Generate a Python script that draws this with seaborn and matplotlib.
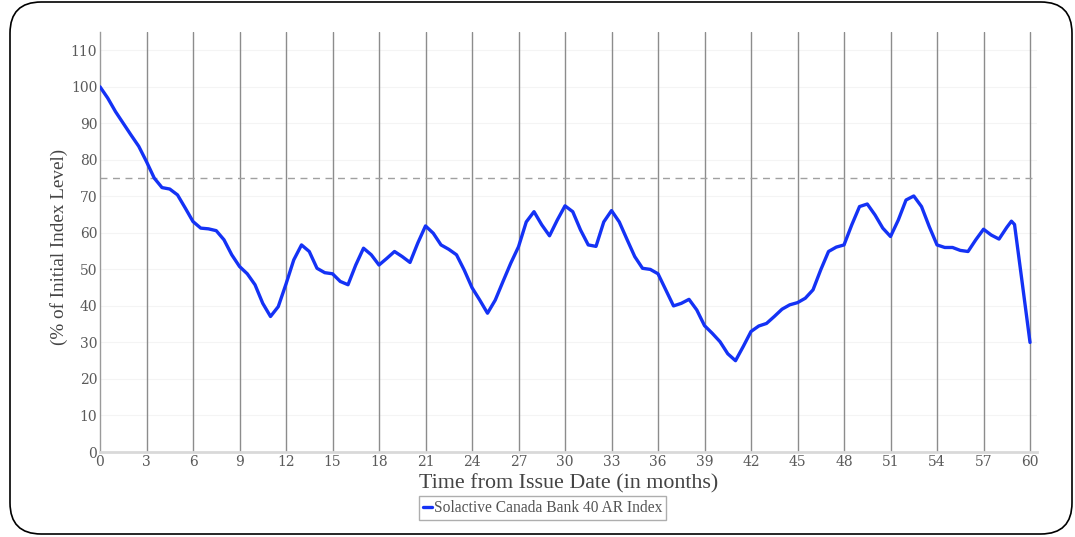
import matplotlib
matplotlib.use("Agg")
import matplotlib.pyplot as plt
from matplotlib.patches import FancyBboxPatch
import seaborn as sns
import pandas as pd

months = [0, 0.5, 1, 1.5, 2, 2.5, 3, 3.5, 4, 4.5, 5, 5.5, 6, 6.5, 7, 7.5, 8, 8.5, 9, 9.5,
          10, 10.5, 11, 11.5, 12, 12.5, 13, 13.5, 14, 14.5, 15, 15.5, 16, 16.5, 17, 17.5,
          18, 18.5, 19, 19.5, 20, 20.5, 21, 21.5, 22, 22.5, 23, 23.5, 24, 24.5, 25, 25.5,
          26, 26.5, 27, 27.5, 28, 28.5, 29, 29.5, 30, 30.5, 31, 31.5, 32, 32.5, 33, 33.5,
          34, 34.5, 35, 35.5, 36, 36.5, 37, 37.5, 38, 38.5, 39, 39.5, 40, 40.5, 41, 41.5,
          42, 42.5, 43, 43.5, 44, 44.5, 45, 45.5, 46, 46.5, 47, 47.5, 48, 48.5, 49, 49.5,
          50, 50.5, 51, 51.5, 52, 52.5, 53, 53.5, 54, 54.5, 55, 55.5, 56, 56.5, 57, 57.5,
          58, 58.5, 58.8, 59, 59.5, 60]
index_level = [100, 96.9, 93.2, 90.0, 86.8, 83.7, 79.5, 75.0, 72.4, 72.0, 70.4, 66.8, 63.1,
               61.3, 61.1, 60.6, 58.1, 54.0, 50.8, 48.8, 45.8, 40.7, 37.1, 39.8, 46.0, 52.6,
               56.7, 54.9, 50.3, 49.1, 48.8, 46.7, 45.8, 51.2, 55.8, 54.0, 51.2, 53.0, 54.9,
               53.5, 51.9, 57.2, 61.9, 59.9, 56.7, 55.5, 54.0, 49.8, 45.0, 41.6, 38.0, 41.6,
               46.7, 51.7, 56.2, 63.0, 65.8, 62.2, 59.2, 63.5, 67.4, 65.8, 60.8, 56.7, 56.3,
               63.0, 66.1, 63.0, 58.2, 53.5, 50.3, 50.0, 48.8, 44.4, 40.0, 40.7, 41.8, 38.9,
               34.6, 32.5, 30.2, 26.9, 25.0, 28.9, 33.0, 34.5, 35.2, 37.1, 39.1, 40.3, 40.9,
               42.1, 44.4, 49.9, 54.9, 56.1, 56.7, 62.2, 67.2, 67.9, 64.9, 61.3, 59.0, 63.5,
               69.0, 70.1, 67.2, 61.7, 56.7, 56.0, 56.0, 55.2, 54.9, 58.1, 61.0, 59.4, 58.3,
               61.5, 63.2, 62.3, 46.2, 30.0]
barrier_level = 75
x_ticks = list(range(0, 61, 3))
y_ticks = list(range(0, 111, 10))
series_name = "Solactive Canada Bank 40 AR Index"
x_title = "Time from Issue Date (in months)"
y_title = "(% of Initial Index Level)"

df = pd.DataFrame({"month": months, "level": index_level, "series": series_name})

sns.set_theme(style="white")
plt.rcParams["font.family"] = ["DejaVu Serif", "DejaVu Sans"]

fig = plt.figure(figsize=(10.75, 5.37), dpi=100)
frame = FancyBboxPatch((10 / 1075, 3 / 537), 1062 / 1075, 532 / 537,
                       boxstyle="round,pad=0,rounding_size=0.029",
                       transform=fig.transFigure, facecolor="none",
                       edgecolor="black", linewidth=1.2, mutation_aspect=1075 / 537,
                       zorder=-10)
fig.patches.append(frame)

ax = fig.add_axes([100 / 1075, 1 - 452 / 537, 937 / 1075, 420 / 537])
ax.set_facecolor("none")

for xt in x_ticks[1:]:
    ax.axvline(xt, color="#8c8c8c", linewidth=1.0, zorder=1)
for yt in y_ticks[1:]:
    ax.axhline(yt, color="#f4f4f4", linewidth=0.8, zorder=0)
ax.axhline(barrier_level, color="#a0a0a0", linewidth=1.0, linestyle=(0, (5, 4)), zorder=1)

sns.lineplot(data=df, x="month", y="level", hue="series", palette=["#1432f5"],
             linewidth=2.4, ax=ax, zorder=3, sort=False,
             solid_joinstyle="round", solid_capstyle="round")

ax.set_xlim(0, 60.45)
ax.set_ylim(0, 115)
ax.set_xticks(x_ticks)
ax.set_yticks(y_ticks)
ax.tick_params(axis="both", labelsize=10, colors="#5a5a5a", length=0, pad=2)
for lab in ax.get_xticklabels() + ax.get_yticklabels():
    lab.set_color("#5a5a5a")
    lab.set_family("DejaVu Serif")

for s in ["top", "right"]:
    ax.spines[s].set_visible(False)
ax.spines["left"].set_color("#9a9a9a")
ax.spines["left"].set_linewidth(1.0)
ax.spines["bottom"].set_color("#d9d9d9")
ax.spines["bottom"].set_linewidth(2.0)

ax.set_xlabel(x_title, fontsize=15.8, color="#444444", family=["Liberation Serif"], labelpad=4)
ax.set_ylabel(y_title, fontsize=13.8, color="#444444", family=["Liberation Serif"])
ax.yaxis.set_label_coords(-0.034, 0.488)

handles, labels = ax.get_legend_handles_labels()
leg = ax.legend(handles, labels, loc="upper center", bbox_to_anchor=(0.472, -0.105),
                frameon=True, fancybox=False, handlelength=0.6,
                handletextpad=0.1, borderpad=0.25, borderaxespad=0,
                prop={"family": "Liberation Serif", "size": 11.2})
leg.get_frame().set_edgecolor("#9a9a9a")
leg.get_frame().set_linewidth(1.0)
for t in leg.get_texts():
    t.set_color("#555555")

fig.savefig("out.png", dpi=100)
